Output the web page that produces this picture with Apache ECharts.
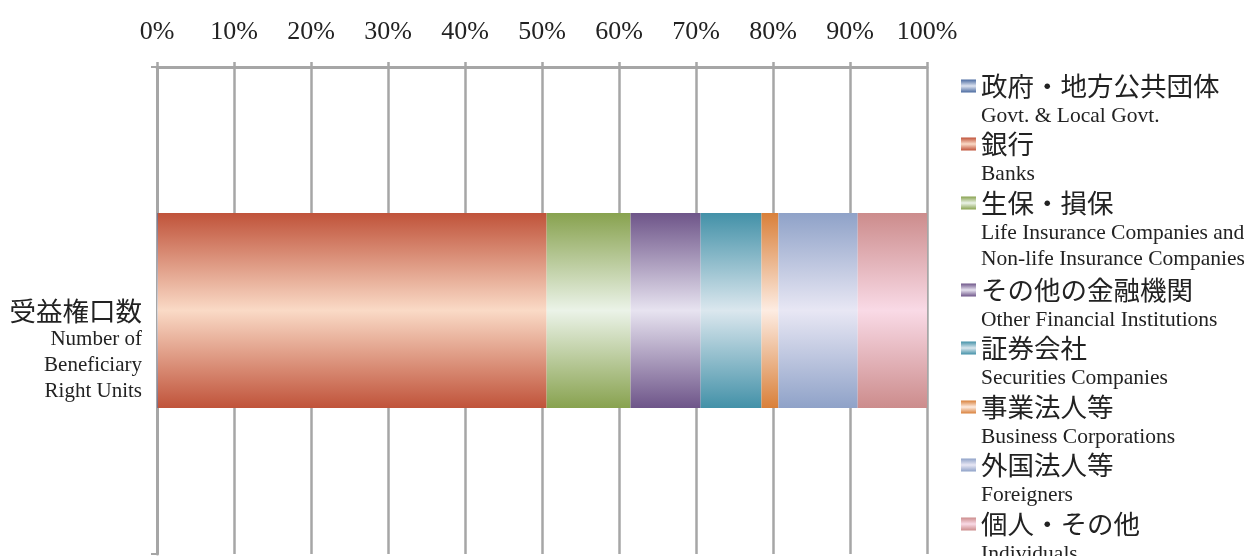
<!DOCTYPE html>
<html>
<head>
<meta charset="utf-8">
<script src="https://cdn.jsdelivr.net/npm/echarts@6/dist/echarts.min.js"></script>
<style>
html,body{margin:0;padding:0;background:#fff;}
#chart{width:1250px;height:556px;}
</style>
</head>
<body>
<div id="chart"></div>
<script>
// ---- data ----
const categoriesJa = ['受益権口数'];
const categoriesEn = ['Number of\nBeneficiary\nRight Units'];
const seriesNamesJa = ['政府・地方公共団体', '銀行', '生保・損保', 'その他の金融機関', '証券会社', '事業法人等', '外国法人等', '個人・その他'];
const seriesNamesEn = ['Govt. & Local Govt.', 'Banks', 'Life Insurance Companies and\nNon-life Insurance Companies', 'Other Financial Institutions', 'Securities Companies', 'Business Corporations', 'Foreigners', 'Individuals'];
// share (%) of each holder type for the single category
const govtValues = [0.1];
const banksValues = [50.5];
const insuranceValues = [10.9];
const otherFinValues = [9.1];
const securitiesValues = [7.9];
const businessValues = [2.2];
const foreignValues = [10.3];
const individualValues = [9.0];
const seriesValues = [govtValues, banksValues, insuranceValues, otherFinValues, securitiesValues, businessValues, foreignValues, individualValues];

// ---- style / layout ----
const edgeColors = ['#4a6aa0', '#c0533a', '#88a24f', '#6e5589', '#4391a8', '#d9803a', '#8fa2c8', '#cc8c8c'];
const midColors  = ['#dde3f0', '#fadac6', '#ebf3e8', '#e7e3f0', '#dbe7ee', '#fdece2', '#e8e7f4', '#f9dae6'];
const legendTops = [51, 109, 142, 255, 313, 372, 430, 489];

const JP = "'Noto Sans CJK JP', sans-serif";
const EN = "'Liberation Serif', 'Times New Roman', serif";
const TXT = '#222';

function grad(i) {
  return new echarts.graphic.LinearGradient(0, 0, 0, 1, [
    {offset: 0, color: edgeColors[i]},
    {offset: 0.5, color: midColors[i]},
    {offset: 1, color: edgeColors[i]}
  ]);
}

function twoLang(ja, enText) {
  const en = enText.split('\n');
  const blank = en.map(() => '{b| }').join('\n');
  return blank + '\n{jp|' + ja + '}\n' + en.map(l => '{en|' + l + '}').join('\n');
}

const series = seriesNamesJa.map((name, i) => ({
  name: name,
  type: 'bar',
  stack: 'total',
  barWidth: 195,
  data: seriesValues[i],
  itemStyle: {color: grad(i)},
  emphasis: {disabled: true}
}));

const legends = seriesNamesJa.map((name, i) => ({
  orient: 'vertical', left: 961, top: legendTops[i], padding: 0,
  itemWidth: 15, itemHeight: 13, icon: 'rect',
  selectedMode: false,
  data: [name],
  formatter: function (n) {
    const idx = seriesNamesJa.indexOf(n);
    return twoLang(n, seriesNamesEn[idx]);
  },
  textStyle: {
    color: TXT,
    rich: {
      b: {fontSize: 10, lineHeight: 26},
      jp: {fontFamily: JP, fontSize: 26.5, lineHeight: 34, color: TXT},
      en: {fontFamily: EN, fontSize: 21.5, lineHeight: 26, color: TXT}
    }
  }
}));

const chart = echarts.init(document.getElementById('chart'), null, {renderer: 'canvas'});
chart.setOption({
  animation: false,
  backgroundColor: '#fff',
  grid: {left: 157, right: 323, top: 67, bottom: 2},
  xAxis: {
    type: 'value', position: 'top', min: 0, max: 100, interval: 10,
    axisLine: {show: true, lineStyle: {color: '#a6a6a6', width: 3}},
    axisTick: {show: true, length: 5, lineStyle: {color: '#a6a6a6', width: 2.5}},
    splitLine: {show: true, lineStyle: {color: '#a6a6a6', width: 2.5}},
    axisLabel: {formatter: '{value}%', fontFamily: EN, fontSize: 26, color: TXT, margin: 22}
  },
  yAxis: {
    type: 'category', data: categoriesJa,
    axisLine: {show: true, lineStyle: {color: '#a6a6a6', width: 3}},
    axisTick: {show: true, length: 6, lineStyle: {color: '#a6a6a6', width: 2}},
    axisLabel: {
      margin: 15,
      formatter: function (v, idx) { return twoLang(v, categoriesEn[idx]); },
      rich: {
        b: {fontSize: 10, lineHeight: 26, align: 'right'},
        jp: {fontFamily: JP, fontSize: 26.5, lineHeight: 32, color: TXT, align: 'right'},
        en: {fontFamily: EN, fontSize: 21, lineHeight: 26, color: TXT, align: 'right'}
      }
    }
  },
  legend: legends,
  series: series
});
</script>
</body>
</html>
